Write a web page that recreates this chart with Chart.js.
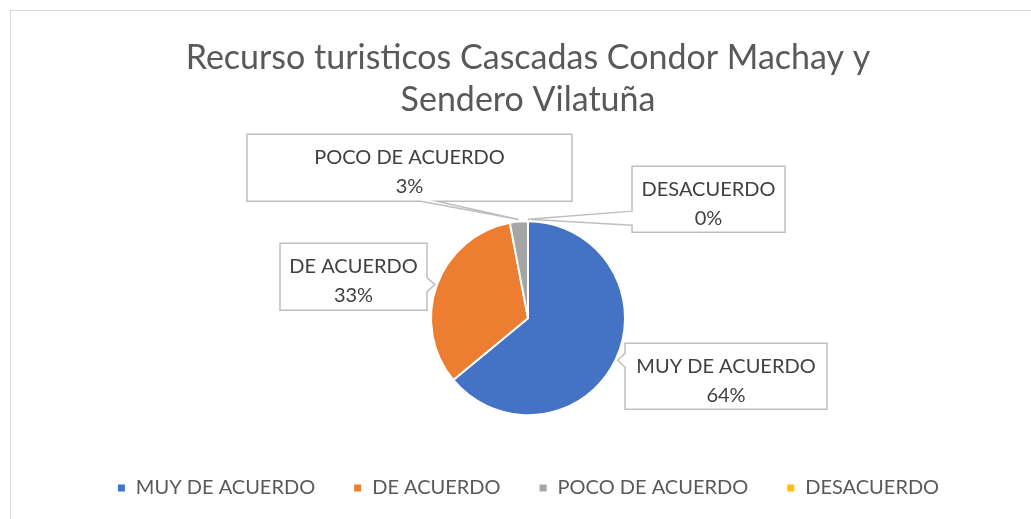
<!DOCTYPE html>
<html>
<head>
<meta charset="utf-8">
<script src="https://cdn.jsdelivr.net/npm/chart.js@4.4.0/dist/chart.umd.min.js"></script>
<style>
  html, body { margin: 0; padding: 0; background: #fff; }
  #wrap { width: 1031px; height: 519px; }
</style>
</head>
<body>
<div id="wrap"><canvas id="grafico" width="1031" height="519"></canvas></div>
<script>
// datos
const categorias = ["MUY DE ACUERDO", "DE ACUERDO", "POCO DE ACUERDO", "DESACUERDO"];
const porcentajes = [64, 33, 3, 0];
const colores = ["#4472C4", "#ED7D31", "#A5A5A5", "#FFC000"];
const titulo = ["Recurso turisticos Cascadas Condor Machay y", "Sendero Vilatuña"];

const fuente = "Lato, 'Liberation Sans', sans-serif";

// cajas de etiquetas: desplazamiento desde el centro del pastel, tamaño, tipo de flecha
const cajas = [
    { dx: 198, dy: 58, w: 202, h: 66, lado: "izq" },
    { dx: -174.5, dy: -41.5, w: 147, h: 67, lado: "der" },
    { dx: -118.5, dy: -150.5, w: 325, h: 67, lado: "abajo", base: 16 },
    { dx: 180.5, dy: -119, w: 153, h: 66, lado: "izqLargo", base: 14 }
];

// marco gris alrededor del grafico
const marco = {
    id: "marco",
    beforeDraw(chart) {
        const c = chart.ctx;
        c.save();
        c.fillStyle = "#fff";
        c.fillRect(0, 0, chart.width, chart.height);
        c.strokeStyle = "#d9d9d9";
        c.lineWidth = 1;
        c.strokeRect(10.5, 10.5, 1100, 600);
        c.restore();
    }
};

// etiquetas tipo "llamada" como en Excel
const llamadas = {
    id: "llamadas",
    afterDatasetsDraw(chart) {
        const c = chart.ctx;
        const meta = chart.getDatasetMeta(0);
        c.save();
        meta.data.forEach((arco, i) => {
            const b = cajas[i];
            const cx = arco.x + b.dx, cy = arco.y + b.dy;
            const x0 = cx - b.w / 2, y0 = cy - b.h / 2, x1 = cx + b.w / 2, y1 = cy + b.h / 2;
            const medio = (arco.startAngle + arco.endAngle) / 2;
            const px = arco.x + Math.cos(medio) * (arco.outerRadius + 2);
            const py = arco.y + Math.sin(medio) * (arco.outerRadius + 2);

            c.beginPath();
            c.moveTo(x0, y0);
            c.lineTo(x1, y0);
            if (b.lado === "der") {
                const my = Math.min(Math.max(py, y0 + 10), y1 - 10);
                c.lineTo(x1, my - 7);
                c.lineTo(px, py);
                c.lineTo(x1, my + 7);
            }
            c.lineTo(x1, y1);
            if (b.lado === "abajo") {
                const bx = Math.min(px - 90, x1 - 30);
                c.lineTo(bx + b.base / 2, y1);
                c.lineTo(px, py);
                c.lineTo(bx - b.base / 2, y1);
            }
            c.lineTo(x0, y1);
            if (b.lado === "izq") {
                const my = Math.min(Math.max(py, y0 + 10), y1 - 10);
                c.lineTo(x0, my + 7);
                c.lineTo(px, py);
                c.lineTo(x0, my - 7);
            }
            if (b.lado === "izqLargo") {
                const my = y1 - 14;
                c.lineTo(x0, my + b.base / 2);
                c.lineTo(px, py);
                c.lineTo(x0, my - b.base / 2);
            }
            c.closePath();
            c.fillStyle = "#fff";
            c.fill();
            c.strokeStyle = "#bfbfbf";
            c.lineWidth = 1.5;
            c.stroke();

            c.fillStyle = "#404040";
            c.font = "20px " + fuente;
            c.textAlign = "center";
            c.textBaseline = "middle";
            c.fillText(categorias[i], cx, cy - 10);
            c.fillText(porcentajes[i] + "%", cx, cy + 19);
        });
        c.restore();
    }
};

new Chart(document.getElementById("grafico"), {
    type: "pie",
    data: {
        labels: categorias,
        datasets: [{
            data: porcentajes,
            backgroundColor: colores,
            borderColor: "#ffffff",
            borderWidth: 2
        }]
    },
    options: {
        responsive: false,
        animation: false,
        radius: 97,
        layout: { padding: { left: 25, right: 0, top: 0, bottom: 11 } },
        plugins: {
            title: {
                display: true,
                text: titulo,
                color: "#595959",
                font: { family: fuente, size: 34, weight: "normal", lineHeight: 1.24 },
                padding: { top: 37, bottom: 75 }
            },
            legend: {
                position: "bottom",
                labels: {
                    color: "#595959",
                    font: { family: fuente, size: 20 },
                    boxWidth: 9,
                    boxHeight: 9,
                    padding: 38
                }
            },
            tooltip: { enabled: false }
        }
    },
    plugins: [marco, llamadas]
});
</script>
</body>
</html>
